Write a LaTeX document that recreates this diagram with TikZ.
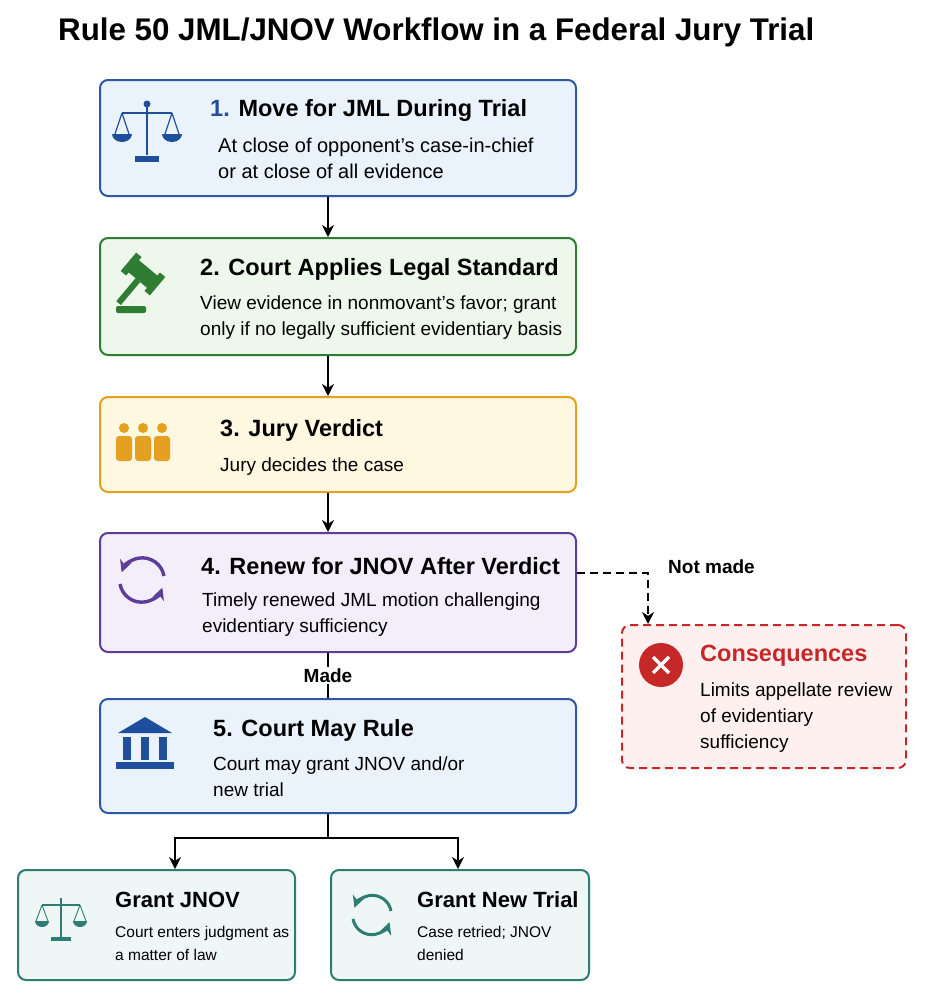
\documentclass[tikz,border=0pt]{standalone}
\usepackage{fontspec}
\setmainfont{Liberation Sans}
\usetikzlibrary{arrows.meta}
\definecolor{blueB}{HTML}{2E58A6}\definecolor{blueF}{HTML}{EAF3FC}
\definecolor{greenB}{HTML}{2E7D32}\definecolor{greenF}{HTML}{EEF7EC}
\definecolor{yelB}{HTML}{E5A020}\definecolor{yelF}{HTML}{FFF8E1}
\definecolor{purB}{HTML}{5E3C99}\definecolor{purF}{HTML}{F3EEFA}
\definecolor{redB}{HTML}{C62828}\definecolor{redF}{HTML}{FDF0EF}
\definecolor{tealB}{HTML}{2E7D73}\definecolor{tealF}{HTML}{EEF7F6}
\definecolor{navy}{HTML}{1F4E9C}
\begin{document}
\begin{tikzpicture}[x=1pt,y=-1pt,>={Stealth[length=12pt,width=12pt]}]
        \tikzstyle{stage}=[draw,rounded corners=8pt,line width=2pt,inner sep=0]
        \tikzstyle{head}=[anchor=west,inner sep=0,font=\fontsize{23.5}{26}\selectfont\bfseries]
        \tikzstyle{body}=[anchor=north west,inner sep=0,align=left,font=\fontsize{19}{26}\selectfont]
        \tikzstyle{sbody}=[anchor=north west,inner sep=0,align=left,font=\fontsize{15.5}{23}\selectfont]
        \tikzstyle{flow}=[draw=black,line width=2.8pt]
        \useasboundingbox[fill=white] (0,0) rectangle (924,998);

        \node[anchor=west,inner sep=0,font=\fontsize{31.3}{34}\selectfont\bfseries] (title) at (58,32) {Rule 50 JML/JNOV Workflow in a Federal Jury Trial};

        % stages
        \node[stage,draw=blueB,fill=blueF,minimum width=476pt,minimum height=116pt] (s1) at (338,138) {};
        \node[stage,draw=greenB,fill=greenF,minimum width=476pt,minimum height=117pt] (s2) at (338,296.5) {};
        \node[stage,draw=yelB,fill=yelF,minimum width=476pt,minimum height=95pt] (s3) at (338,444.5) {};
        \node[stage,draw=purB,fill=purF,minimum width=476pt,minimum height=119pt] (s4) at (338,592.5) {};
        \node[stage,draw=blueB,fill=blueF,minimum width=476pt,minimum height=114pt] (s5) at (338,756) {};
        \node[stage,dashed,dash pattern=on 8pt off 5pt,draw=redB,fill=redF,minimum width=284pt,minimum height=143pt] (cons) at (764,696.5) {};
        \node[stage,draw=tealB,fill=tealF,minimum width=277pt,minimum height=110pt] (jnov) at (156.5,925) {};
        \node[stage,draw=tealB,fill=tealF,minimum width=258pt,minimum height=110pt] (newt) at (460,925) {};

        % texts
        \node[head] (h1) at (210,110) {\textcolor{navy}{1.} Move for JML During Trial};
        \node[body,font=\fontsize{20}{26}\selectfont] (b1) at (218,138) {At close of opponent’s case-in-chief\\or at close of all evidence};
        \node[head] (h2) at (200,269) {2. Court Applies Legal Standard};
        \node[body] (b2) at (200,296) {View evidence in nonmovant’s favor; grant\\only if no legally sufficient evidentiary basis};
        \node[head] (h3) at (220,430) {3. Jury Verdict};
        \node[body] (b3) at (220,458) {Jury decides the case};
        \node[head] (h4) at (201,566) {4. Renew for JNOV After Verdict};
        \node[body] (b4) at (202,593) {Timely renewed JML motion challenging\\evidentiary sufficiency};
        \node[head] (h5) at (213,730) {5. Court May Rule};
        \node[body] (b5) at (213,757) {Court may grant JNOV and/or\\new trial};
        \node[head,text=redB] (hc) at (700,656) {Consequences};
        \node[body] (bc) at (700,683) {Limits appellate review\\of evidentiary\\sufficiency};
        \node[head,font=\fontsize{22}{24}\selectfont\bfseries] (hj) at (115,900) {Grant JNOV};
        \node[sbody] (bj) at (115,926) {Court enters judgment as\\a matter of law};
        \node[head,font=\fontsize{22}{24}\selectfont\bfseries] (hn) at (417,900) {Grant New Trial};
        \node[sbody] (bn) at (417,926) {Case retried; JNOV\\denied};

        % icons
        \begin{scope}[draw=navy,fill=navy,line width=2.6pt]
          \draw (147,103) -- (147,155); \draw (122,113) -- (172,113);
          \fill (135,156) rectangle (159,162); \fill (147,104) circle (3.5);
          \draw[line width=1.2pt] (122,113) -- (115,134) (122,113) -- (129,134) (172,113) -- (165,134) (172,113) -- (179,134);
          \fill (112,134) arc (180:0:10 and 8) -- cycle; \fill (162,134) arc (180:0:10 and 8) -- cycle;
        \end{scope}
        \begin{scope}[fill=greenB]
          \fill[rotate around={-40:(143,274)}] (128,266) rectangle (158,282);
          \fill[rotate around={-40:(143,274)}] (124,262) rectangle (131,286) (155,262) rectangle (162,286);
          \fill[rotate around={-40:(143,274)}] (140,282) rectangle (146,312);
          \fill[rounded corners=2pt] (116,306) rectangle (146,313);
        \end{scope}
        \begin{scope}[fill=yelB]
          \foreach \px in {124,143,162}{
            \fill (\px,428) circle (5);
            \fill[rounded corners=3pt] (\px-8,436) rectangle (\px+8,461);}
        \end{scope}
        \draw[purB,line width=3.4pt,->] (164,576) arc (-10:-160:22);
        \draw[purB,line width=3.4pt,->] (120,584) arc (170:20:22);
        \begin{scope}[fill=navy]
          \fill (118,733) -- (145,717) -- (172,733) -- cycle;
          \foreach \px in {127,145,163} {\fill (\px-4,737) rectangle (\px+4,760);}
          \fill (116,762) rectangle (174,769);
        \end{scope}
        \fill[redB] (661,665) circle (22);
        \draw[white,line width=3.5pt] (653,657) -- (669,673) (669,657) -- (653,673);
        \begin{scope}[draw=tealB,fill=tealB,line width=2pt]
          \draw (61,898) -- (61,937); \draw (42,905) -- (80,905); \fill (51,937) rectangle (71,941);
          \draw[line width=0.9pt] (42,905) -- (36,921) (42,905) -- (48,921) (80,905) -- (74,921) (80,905) -- (86,921);
          \fill (35,921) arc (180:0:7 and 6) -- cycle; \fill (73,921) arc (180:0:7 and 6) -- cycle;
        \end{scope}
        \draw[tealB,line width=3pt,->] (391,911) arc (-10:-160:19);
        \draw[tealB,line width=3pt,->] (353,919) arc (170:20:19);

        % connectors
        \draw[flow,->] (s1.south -| 328,0) -- (s2.north -| 328,0);
        \draw[flow,->] (s2.south -| 328,0) -- (s3.north -| 328,0);
        \draw[flow,->] (s3.south -| 328,0) -- (s4.north -| 328,0);
        \draw[flow] (s4.south -| 328,0) -- node[fill=white,inner sep=2pt,font=\fontsize{19}{20}\selectfont\bfseries] (made) {Made} (s5.north -| 328,0);
        \coordinate (split) at (328,838);
        \draw[flow] (s5.south -| 328,0) -- (split);
        \draw[flow,->] (split) -| (jnov.north -| 175,0);
        \draw[flow,->] (split) -| (newt.north -| 458,0);
        \draw[flow,dashed,dash pattern=on 8pt off 5pt,->] (s4.east |- 0,573) -| (cons.north -| 648,0);
        \node[anchor=west,inner sep=0,font=\fontsize{19}{20}\selectfont\bfseries] (notmade) at (668,567) {Not made};
\end{tikzpicture}
\end{document}
